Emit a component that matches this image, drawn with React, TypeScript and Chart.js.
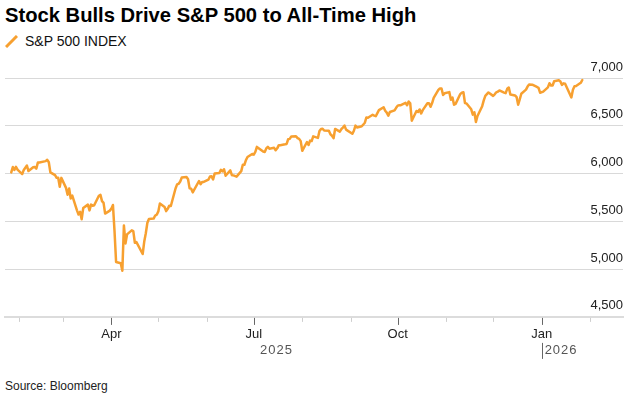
import React, { useEffect, useRef } from "react";
import { Chart, registerables } from "chart.js";

Chart.register(...registerables);

const FONT = '"Liberation Sans", Arial, Helvetica, sans-serif';
const ORANGE = "#F7A030";

const chartTitle = "Stock Bulls Drive S&P 500 to All-Time High";
const seriesName = "S&P 500 INDEX";
const sourceText = "Source: Bloomberg";

// Trading months (YYYY-MM), trading days in each month, and closing values
const monthKeys = [
  "2025-01", "2025-02", "2025-03", "2025-04", "2025-05", "2025-06", "2025-07",
  "2025-08", "2025-09", "2025-10", "2025-11", "2025-12", "2026-01",
];

const tradingDays = [
  [27, 28, 29, 30, 31],
  [3, 4, 5, 6, 7, 10, 11, 12, 13, 14, 18, 19, 20, 21, 24, 25, 26, 27, 28],
  [3, 4, 5, 6, 7, 10, 11, 12, 13, 14, 17, 18, 19, 20, 21, 24, 25, 26, 27, 28, 31],
  [1, 2, 3, 4, 7, 8, 9, 10, 11, 14, 15, 16, 17, 21, 22, 23, 24, 25, 28, 29, 30],
  [1, 2, 5, 6, 7, 8, 9, 12, 13, 14, 15, 16, 19, 20, 21, 22, 23, 27, 28, 29, 30],
  [2, 3, 4, 5, 6, 9, 10, 11, 12, 13, 16, 17, 18, 20, 23, 24, 25, 26, 27, 30],
  [1, 2, 3, 7, 8, 9, 10, 11, 14, 15, 16, 17, 18, 21, 22, 23, 24, 25, 28, 29, 30, 31],
  [1, 4, 5, 6, 7, 8, 11, 12, 13, 14, 15, 18, 19, 20, 21, 22, 25, 26, 27, 28, 29],
  [2, 3, 4, 5, 8, 9, 10, 11, 12, 15, 16, 17, 18, 19, 22, 23, 24, 25, 26, 29, 30],
  [1, 2, 3, 6, 7, 8, 9, 10, 13, 14, 15, 16, 17, 20, 21, 22, 23, 24, 27, 28, 29, 30, 31],
  [3, 4, 5, 6, 7, 10, 11, 12, 13, 14, 17, 18, 19, 20, 21, 24, 25, 26, 28],
  [1, 2, 3, 4, 5, 8, 9, 10, 11, 12, 15, 16, 17, 18, 19, 22, 23, 24, 26, 29, 30, 31],
  [2, 5, 6, 7, 8, 9, 12, 13, 14, 15, 16, 20, 21, 22, 23, 26, 27],
];

const closes = [
  [6012, 6068, 6039, 6071, 6041],
  [5995, 6038, 6061, 6084, 6026, 6066, 6069, 6052, 6115, 6115, 6130, 6144, 6118, 6013, 5983, 5955, 5956, 5862, 5955],
  [5850, 5778, 5843, 5739, 5770, 5615, 5572, 5599, 5522, 5639, 5675, 5615, 5675, 5663, 5668, 5768, 5777, 5712, 5693, 5581, 5612],
  [5633, 5671, 5397, 5074, 5062, 4983, 5457, 5268, 5363, 5406, 5397, 5276, 5283, 5158, 5288, 5376, 5485, 5525, 5529, 5561, 5569],
  [5604, 5687, 5650, 5607, 5631, 5664, 5660, 5844, 5887, 5893, 5917, 5958, 5964, 5940, 5845, 5842, 5803, 5922, 5889, 5912, 5912],
  [5936, 5970, 5971, 5939, 6000, 6006, 6039, 6022, 6045, 5977, 6033, 5983, 5981, 5968, 6025, 6092, 6092, 6141, 6173, 6205],
  [6198, 6227, 6279, 6230, 6226, 6263, 6280, 6260, 6269, 6244, 6264, 6297, 6297, 6306, 6310, 6359, 6363, 6389, 6390, 6371, 6363, 6339],
  [6238, 6330, 6299, 6345, 6340, 6389, 6373, 6446, 6467, 6469, 6450, 6449, 6411, 6396, 6370, 6467, 6439, 6466, 6481, 6502, 6460],
  [6416, 6448, 6502, 6482, 6495, 6513, 6532, 6587, 6584, 6615, 6607, 6600, 6632, 6664, 6694, 6657, 6638, 6605, 6644, 6661, 6688],
  [6711, 6715, 6716, 6740, 6715, 6754, 6735, 6553, 6655, 6644, 6671, 6629, 6664, 6735, 6735, 6699, 6738, 6792, 6875, 6891, 6891, 6822, 6840],
  [6852, 6772, 6796, 6720, 6729, 6832, 6847, 6851, 6737, 6734, 6672, 6617, 6642, 6539, 6603, 6705, 6766, 6813, 6849],
  [6813, 6829, 6850, 6857, 6870, 6847, 6841, 6887, 6901, 6827, 6817, 6800, 6721, 6775, 6835, 6878, 6910, 6932, 6930, 6906, 6896, 6846],
  [6858, 6902, 6945, 6921, 6921, 6966, 6977, 6964, 6927, 6944, 6940, 6797, 6876, 6913, 6916, 6950, 6979],
];

// Axis settings
const axisStart = "2025-01-23";
const axisEnd = "2026-02-22";
const yMin = 4500;
const yMax = 7000;
const yStep = 500;
const tickMonths = [
  "2025-02-01", "2025-03-01", "2025-04-01", "2025-05-01", "2025-06-01", "2025-07-01",
  "2025-08-01", "2025-09-01", "2025-10-01", "2025-11-01", "2025-12-01", "2026-01-01", "2026-02-01",
];
const tickLabels = ["", "", "Apr", "", "", "Jul", "", "", "Oct", "", "", "Jan", ""];
const yearLabels = ["2025", "2026"];
const yearBoundary = "2026-01-01";

const dayOf = (s: string) => {
  const [y, m, d] = s.split("-").map(Number);
  return (Date.UTC(y, m - 1, d) - Date.UTC(2025, 0, 1)) / 86400000;
};

export default function App() {
  const ref = useRef<HTMLCanvasElement | null>(null);

  useEffect(() => {
    if (!ref.current) return;
    const points: { x: number; y: number }[] = [];
    monthKeys.forEach((mk, i) => {
      tradingDays[i].forEach((d, j) => {
        points.push({ x: dayOf(`${mk}-${String(d).padStart(2, "0")}`), y: closes[i][j] });
      });
    });
    const tickDays = tickMonths.map(dayOf);
    const firstDay = points[0].x;

    const axisDecor = {
      id: "axisDecor",
      afterDraw(chart: any) {
        const { ctx, chartArea, scales } = chart;
        const xs = scales.x;
        const base = chartArea.bottom;
        ctx.save();
        tickDays.forEach((d, i) => {
          const px = Math.round(xs.getPixelForValue(d)) + 0.5;
          const major = tickLabels[i] !== "";
          ctx.strokeStyle = major ? "#666666" : "#cfcfcf";
          ctx.lineWidth = 1;
          ctx.beginPath();
          ctx.moveTo(px, base + 1);
          ctx.lineTo(px, base + (major ? 8 : 5));
          ctx.stroke();
        });
        const startPx = xs.getPixelForValue(firstDay);
        const yearPx = xs.getPixelForValue(dayOf(yearBoundary));
        ctx.font = `13px ${FONT}`;
        ctx.fillStyle = "#555555";
        ctx.textBaseline = "middle";
        try { (ctx as any).letterSpacing = "1px"; } catch (e) {}
        ctx.textAlign = "center";
        ctx.fillText(yearLabels[0], (startPx + yearPx) / 2, base + 34);
        ctx.textAlign = "left";
        ctx.fillText(yearLabels[1], yearPx + 3, base + 34);
        ctx.strokeStyle = "#666666";
        ctx.beginPath();
        const bx = Math.round(yearPx) + 0.5;
        ctx.moveTo(bx, base + 26);
        ctx.lineTo(bx, base + 42);
        ctx.stroke();
        ctx.restore();
      },
    };

    const chart = new Chart(ref.current, {
      type: "line",
      data: {
        datasets: [
          {
            label: seriesName,
            data: points,
            borderColor: ORANGE,
            backgroundColor: ORANGE,
            borderWidth: 2.5,
            pointRadius: 0,
            tension: 0,
            fill: false,
            borderJoinStyle: "round",
            borderCapStyle: "round",
          },
        ],
      },
      options: {
        animation: false,
        responsive: false,
        layout: { padding: { left: 5, right: 9, top: 28, bottom: 25.5 } },
        plugins: { legend: { display: false }, tooltip: { enabled: false } },
        scales: {
          x: {
            type: "linear",
            min: dayOf(axisStart),
            max: dayOf(axisEnd),
            afterBuildTicks: (s: any) => {
              s.ticks = tickDays.map((v) => ({ value: v }));
            },
            ticks: {
              autoSkip: false,
              maxRotation: 0,
              padding: 2,
              color: "#222222",
              font: { family: FONT, size: 13 },
              callback: (_v: any, i: number) => tickLabels[i] ?? "",
            },
            grid: { display: false },
            border: { display: true, color: "#dcdcdc", width: 2 },
          },
          y: {
            position: "right",
            min: yMin,
            max: yMax,
            ticks: {
              stepSize: yStep,
              mirror: true,
              padding: 0,
              labelOffset: -11,
              color: "#222222",
              font: { family: FONT, size: 13 },
              callback: (v: any) => Number(v).toLocaleString("en-US"),
            },
            grid: { color: "#d9d9d9", lineWidth: 1, drawTicks: false },
            border: { display: false },
          },
        },
      },
      plugins: [axisDecor],
    } as any);

    return () => chart.destroy();
  }, []);

  return (
    <div
      style={{
        position: "fixed",
        left: 0,
        top: 0,
        width: 632,
        height: 399,
        background: "#ffffff",
        fontFamily: FONT,
        overflow: "hidden",
      }}
    >
      <div
        style={{
          position: "absolute",
          left: 5,
          top: 3,
          fontSize: 20.2,
          fontWeight: 700,
          lineHeight: "24px",
          color: "#000000",
          whiteSpace: "nowrap",
        }}
      >
        {chartTitle}
      </div>
      <div
        style={{
          position: "absolute",
          left: 5,
          top: 33,
          height: 16,
          display: "flex",
          alignItems: "center",
          whiteSpace: "nowrap",
        }}
      >
        <svg width={13} height={13} style={{ display: "block" }}>
          <line x1={1} y1={12} x2={12} y2={1} stroke={ORANGE} strokeWidth={3} />
        </svg>
        <span style={{ marginLeft: 7, fontSize: 14, lineHeight: "16px", color: "#111111" }}>
          {seriesName}
        </span>
      </div>
      <canvas
        ref={ref}
        width={632}
        height={320}
        style={{ position: "absolute", left: 0, top: 50, width: 632, height: 320 }}
      />
      <div
        style={{
          position: "absolute",
          left: 5,
          top: 379,
          fontSize: 12,
          lineHeight: "14px",
          color: "#222222",
          whiteSpace: "nowrap",
        }}
      >
        {sourceText}
      </div>
    </div>
  );
}
